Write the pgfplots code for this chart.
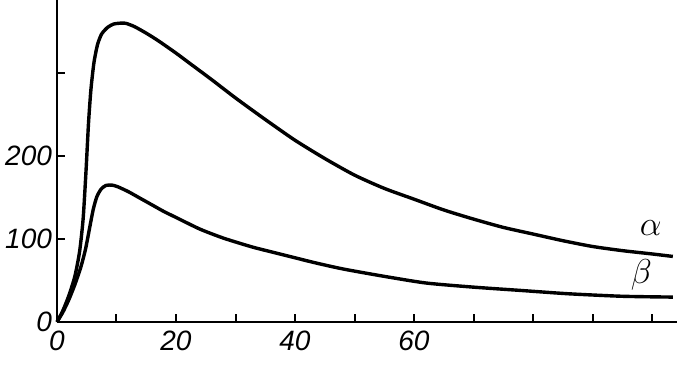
\documentclass[border=0pt]{standalone}
\usepackage{pgfplots}
\pgfplotsset{compat=1.18}
\usepackage{fontspec}
\setmainfont{Liberation Sans}
\begin{document}
\begin{tikzpicture}
\begin{axis}[
  at={(0,0)}, anchor=origin,
  scale only axis,
  width=310pt, height=161pt,
  xmin=0, xmax=104.2, ymin=0, ymax=388,
  axis x line=bottom, axis y line=left,
  axis line style={-, line width=1.4pt},
  xtick={0,10,...,100},
  xticklabels={0,,20,,40,,60,,,,},
  ytick={0,100,200,300},
  yticklabels={0,100,200,},
  tick style={line width=1pt, black},
  major tick length=4pt,
  tick align=inside,
  /pgf/number format/assume math mode=true,
  ticklabel style={font=\fontsize{14}{14}\selectfont\itshape},
  xticklabel style={yshift=-1pt},
  yticklabel style={xshift=1pt},
  clip=false,
]
\addplot[line width=1.7pt, smooth, tension=0.4] coordinates {
(0,0) (1,14) (2,32) (3,55) (3.8,85) (4.4,125) (4.9,185) (5.3,240) (5.7,280)
(6.2,312) (6.8,334) (7.5,347) (8.5,355) (9.5,359) (10.5,360) (11.5,360)
(13,356) (15,348) (17,339) (20,324) (23,308) (26,292) (30,270) (35,244)
(40,219) (45,197) (50,177) (55,161) (60,148) (65,135) (70,124) (75,114)
(80,106) (85,98) (90,91) (95,86) (100,82) (103.5,79)
};
\addplot[line width=1.7pt, smooth, tension=0.4] coordinates {
(0,0) (1,12) (2,27) (3,45) (4,66) (4.8,88) (5.5,114) (6.1,136) (6.7,151)
(7.4,160) (8.2,164.5) (9.2,165) (10.2,163) (12,157) (14,149) (16,141)
(18,133) (20,126) (24,112) (28,101) (33,90) (38,81) (43,72) (48,64)
(55,55) (62,47) (70,42) (78,38) (86,34) (95,31) (103.5,30)
};
\node[font=\fontsize{16}{16}\selectfont] at (axis cs:99.8,113) {$\alpha$};
\node[font=\fontsize{16}{16}\selectfont] at (axis cs:98.2,57) {$\beta$};
\end{axis}
\pgfresetboundingbox
\path (-28.5pt,-21.5pt) rectangle (310pt,161pt);
\end{tikzpicture}
\end{document}
